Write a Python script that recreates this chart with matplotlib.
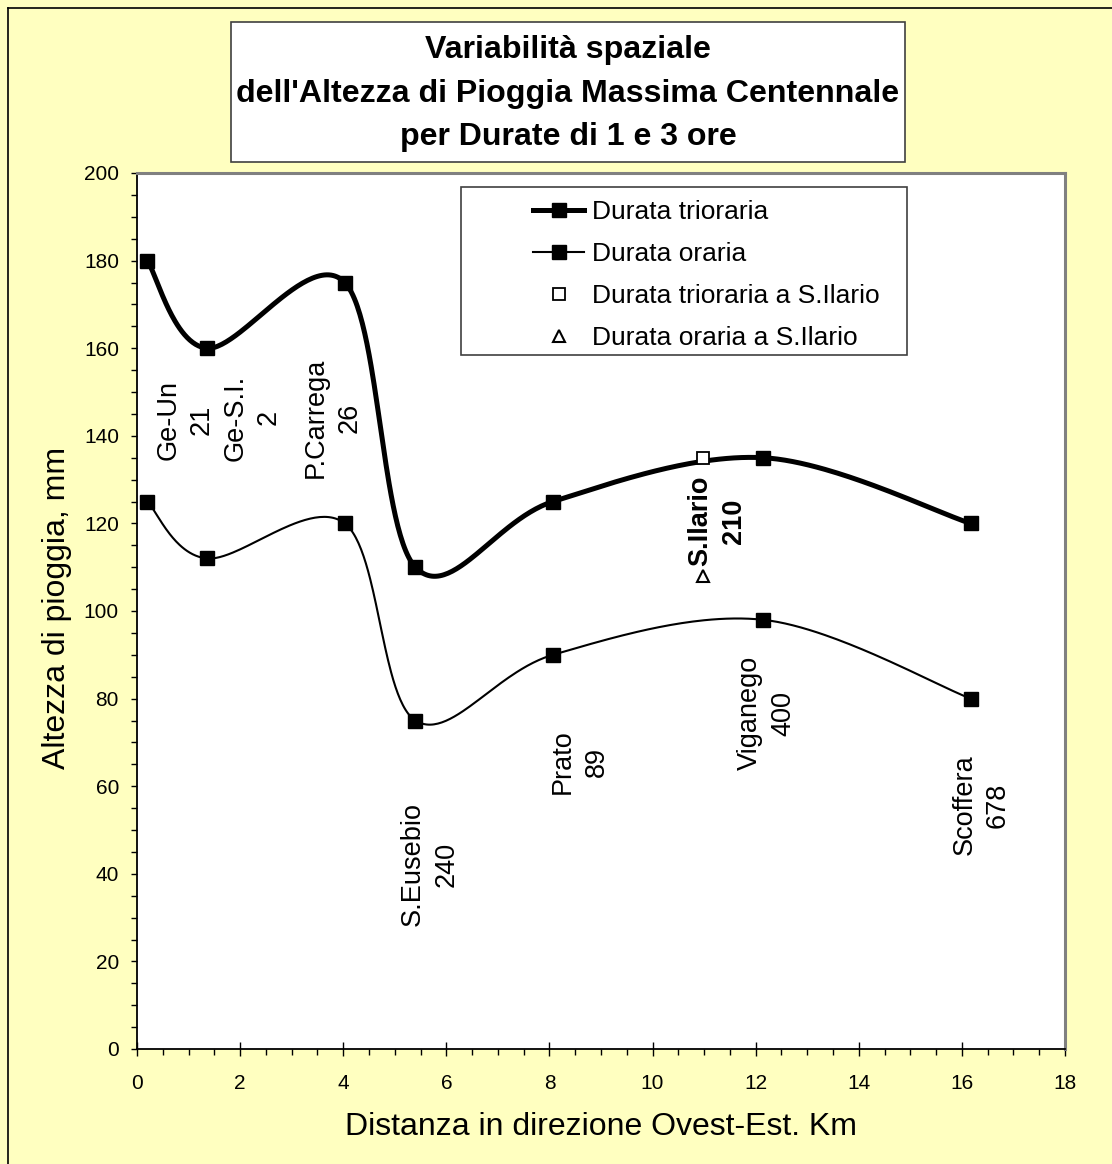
import numpy as np
import matplotlib
matplotlib.use('Agg')
import matplotlib.pyplot as plt
from matplotlib.patches import Rectangle
from matplotlib.lines import Line2D
from matplotlib.ticker import MultipleLocator

plt.rcParams['font.family'] = ['Liberation Sans', 'DejaVu Sans']

# ---------------- data ----------------
distance_km = [0.2, 1.35, 4.03, 5.4, 8.07, 12.14, 16.17]
rain_3h = [180, 160, 175, 110, 125, 135, 120]
rain_1h = [125, 112, 120, 75, 90, 98, 80]
ilario_km = [10.98]
ilario_3h = [135]
ilario_1h = [108]
station_labels = ['Ge-Un\n21', 'Ge-S.I.\n2', 'P.Carrega\n26', 'S.Eusebio\n240',
                  'Prato\n89', 'Viganego\n400', 'Scoffera\n678']
ilario_label = 'S.Ilario\n210'
series_names = ['Durata trioraria', 'Durata oraria',
                'Durata trioraria a S.Ilario', 'Durata oraria a S.Ilario']
title_lines = ['Variabilità spaziale',
               "dell'Altezza di Pioggia Massima Centennale",
               'per Durate di 1 e 3 ore']
x_title = 'Distanza in direzione Ovest-Est. Km'
y_title = 'Altezza di pioggia, mm'

# ---------------- layout (label anchor positions, data units) ----------------
station_label_pos = [(0.93, 143.6), (2.23, 144.1), (3.80, 144.1), (5.68, 42.2),
                     (8.59, 65.5), (12.22, 76.7), (16.37, 55.7)]
ilario_label_pos = (11.25, 120.5)

W, H = 1112, 1164


def smooth(x, y, n=60):
    P = np.column_stack([x, y]).astype(float)
    m = len(P)
    out = []
    t = np.linspace(0, 1, n)[:, None]
    for i in range(m - 1):
        p0 = P[i - 1] if i > 0 else P[i]
        p1 = P[i]
        p2 = P[i + 1]
        p3 = P[i + 2] if i + 2 < m else P[i + 1]
        c1 = p1 + (p2 - p0) / 6.0
        c2 = p2 - (p3 - p1) / 6.0
        seg = ((1 - t) ** 3) * p1 + 3 * ((1 - t) ** 2) * t * c1 + 3 * (1 - t) * t ** 2 * c2 + t ** 3 * p2
        out.append(seg if i == 0 else seg[1:])
    out = np.vstack(out)
    return out[:, 0], out[:, 1]


fig = plt.figure(figsize=(W / 100, H / 100), dpi=100, facecolor='#FFFFC0')

# outer border (left & top visible)
fig.add_artist(Line2D([8 / W, 8 / W], [0, 1 - 8 / H], transform=fig.transFigure, color='black', lw=1.2))
fig.add_artist(Line2D([8 / W, 1], [1 - 8 / H, 1 - 8 / H], transform=fig.transFigure, color='black', lw=1.2))

ax = fig.add_axes([137 / W, 1 - 1049 / H, (1065 - 137) / W, (1049 - 173) / H])
ax.set_facecolor('white')
ax.set_xlim(0, 18)
ax.set_ylim(0, 200)

xs, ys = smooth(distance_km, rain_3h)
ax.plot(xs, ys, color='black', lw=3.6, solid_capstyle='round', zorder=3)
ax.plot(distance_km, rain_3h, ls='none', marker='s', ms=10, color='black', zorder=4)
xs, ys = smooth(distance_km, rain_1h)
ax.plot(xs, ys, color='black', lw=1.5, zorder=3)
ax.plot(distance_km, rain_1h, ls='none', marker='s', ms=10, color='black', zorder=4)
ax.plot(ilario_km, ilario_3h, ls='none', marker='s', ms=8, mfc='white', mec='black', mew=1.3, zorder=5)
ax.plot(ilario_km, ilario_1h, ls='none', marker='^', ms=8, mfc='white', mec='black', mew=1.5, zorder=5)

for lab, (lx, ly) in zip(station_labels, station_label_pos):
    ax.text(lx, ly, lab, rotation=90, ha='center', va='center', multialignment='center',
            fontsize=19.5, linespacing=1.37, zorder=6)
ax.text(ilario_label_pos[0], ilario_label_pos[1], ilario_label, rotation=90, ha='center', va='center',
        multialignment='center', fontsize=19.5, fontweight='bold', linespacing=1.37, zorder=6)

# spines
for s in ['top', 'right']:
    ax.spines[s].set_color('#808080')
    ax.spines[s].set_linewidth(2.2)
for s in ['left', 'bottom']:
    ax.spines[s].set_color('black')
    ax.spines[s].set_linewidth(1.3)

ax.yaxis.set_major_locator(MultipleLocator(20))
ax.yaxis.set_minor_locator(MultipleLocator(5))
ax.xaxis.set_major_locator(MultipleLocator(2))
ax.xaxis.set_minor_locator(MultipleLocator(0.5))
ax.tick_params(axis='y', which='both', direction='out', length=4, width=1, color='black',
               labelsize=15, pad=9)
ax.tick_params(axis='x', which='major', direction='inout', length=10, width=1, color='black',
               labelsize=15, pad=13)
ax.tick_params(axis='x', which='minor', direction='out', length=4, width=1, color='black')

# axis titles
fig.text(601 / W, 1 - 1127 / H, x_title, ha='center', va='center', fontsize=23)
yl = fig.text(57 / W, 1 - 608 / H, y_title, rotation=90, ha='center', va='center', fontsize=23)
clip = Rectangle((0, 0), 1, 1 - 444 / H, transform=fig.transFigure)
yl.set_clip_path(clip)
yl.set_clip_on(True)

# title box
fig.add_artist(Rectangle((231 / W, 1 - 162 / H), (905 - 231) / W, (162 - 22) / H,
                         transform=fig.transFigure, facecolor='white', edgecolor='#404040', lw=1.2, zorder=4))
for line, yy in zip(title_lines, [50, 94, 137]):
    fig.text(568 / W, 1 - yy / H, line, ha='center', va='center', fontsize=23.1, fontweight='bold', zorder=5)

# legend box
fig.add_artist(Rectangle((461 / W, 1 - 355 / H), (907 - 461) / W, (355 - 187) / H,
                         transform=fig.transFigure, facecolor='white', edgecolor='#404040', lw=1.2, zorder=4))
handles = [
    Line2D([], [], color='black', lw=3.6, marker='s', ms=10),
    Line2D([], [], color='black', lw=1.5, marker='s', ms=10),
    Line2D([], [], ls='none', marker='s', ms=8, mfc='white', mec='black', mew=1.3),
    Line2D([], [], ls='none', marker='^', ms=8, mfc='white', mec='black', mew=1.5),
]
leg = fig.legend(handles, series_names, loc='upper left', bbox_to_anchor=(533 / W, 1 - 200 / H),
                 bbox_transform=fig.transFigure, frameon=False, fontsize=19, handlelength=1.95,
                 handletextpad=0.3, labelspacing=0.68, borderpad=0, borderaxespad=0, numpoints=1)
leg.set_zorder(6)

fig.savefig('out.png', dpi=100, facecolor=fig.get_facecolor())
